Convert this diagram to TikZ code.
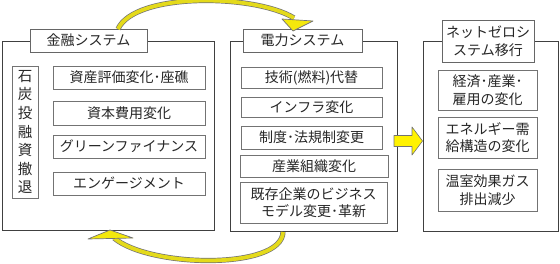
\documentclass[tikz,border=0pt]{standalone}
\usepackage{fontspec}
\setmainfont{Noto Sans CJK JP}
\tikzset{
  outerbox/.style={draw=black!75, line width=0.9pt, inner sep=0pt},
  titlebox/.style={draw=black!60, fill=white, line width=0.8pt, inner sep=0pt, align=center,
    text=black!85, font=\fontsize{14}{18}\selectfont},
  itembox/.style={draw=black!55, line width=0.8pt, inner sep=0pt, align=center,
    text=black!85, font=\fontsize{14}{17.5}\selectfont},
  bandarrow/.style={draw=black!55, line width=0.7pt, double=yellow!88!black, double distance=3.8pt},
  bandhead/.style={draw=black!55, line width=0.7pt, fill=yellow!95!black, line join=round},
}
\begin{document}
\begin{tikzpicture}[x=1pt,y=-1pt]
  \useasboundingbox (0,0) rectangle (560,264);
  % outer frames
  \node[outerbox, minimum width=212pt, minimum height=189pt] (fin) at (108,135.5) {};
  \node[outerbox, minimum width=167pt, minimum height=190pt] (elec) at (313.5,136) {};
  \node[outerbox, minimum width=135pt, minimum height=190pt] (nz) at (490.5,136) {};
  % titles
  \node[titlebox, minimum width=117pt, minimum height=23pt] (fintitle) at (88.5,40.5) {金融システム};
  \node[titlebox, minimum width=119pt, minimum height=23pt] (electitle) at (302.5,40.5) {電力システム};
  \node[titlebox, minimum width=92pt, minimum height=42pt] (nztitle) at (488,41) {ネットゼロシ\\ステム移行};
  % finance column
  \node[itembox, minimum width=26pt, minimum height=132pt, font=\fontsize{14.5}{18.6}\selectfont]
    (coal) at (25,132) {石\\炭\\投\\融\\資\\撤\\退};
  \node[itembox, minimum width=152pt, minimum height=23pt] (f1) at (129,77.5) {資産評価変化･座礁};
  \node[itembox, minimum width=152pt, minimum height=24pt] (f2) at (129,113) {資本費用変化};
  \node[itembox, minimum width=152pt, minimum height=23pt] (f3) at (129,146.5) {グリーンファイナンス};
  \node[itembox, minimum width=152pt, minimum height=23pt] (f4) at (129,183.5) {エンゲージメント};
  % power column
  \node[itembox, minimum width=141pt, minimum height=21pt] (e1) at (311.5,77.5) {技術(燃料)代替};
  \node[itembox, minimum width=141pt, minimum height=20pt] (e2) at (311.5,107) {インフラ変化};
  \node[itembox, minimum width=141pt, minimum height=23pt] (e3) at (311.5,137.5) {制度･法規制変更};
  \node[itembox, minimum width=148pt, minimum height=22pt] (e4) at (314,166) {産業組織変化};
  \node[itembox, minimum width=147pt, minimum height=41pt] (e5) at (313.5,202.5) {既存企業のビジネス\\モデル変更･革新};
  % net zero column
  \node[itembox, minimum width=99pt, minimum height=40pt] (n1) at (487.5,90) {経済･産業･\\雇用の変化};
  \node[itembox, minimum width=99pt, minimum height=41pt] (n2) at (487.5,137.5) {エネルギー需\\給構造の変化};
  \node[itembox, minimum width=99pt, minimum height=42pt] (n3) at (487.5,190) {温室効果ガス\\排出減少};
  % block arrow elec -> nz
  \draw[draw=black!55, fill=yellow, line width=0.6pt, line join=round]
    (394,135.5) -- (412,135.5) -- (412,127) -- (nz.west |- 0,141) -- (412,155) -- (412,146.5) -- (394,146.5) -- cycle;
  % curved arrows
  \coordinate (top0) at (118,29);
  \coordinate (top1) at (294,18);
  \coordinate (bot0) at (283,232);
  \coordinate (bot1) at (114,238);
  \draw[bandarrow] (top0) .. controls (135,-8) and (255,-6) .. (top1);
  \draw[bandhead] (282,19) -- (313,21) -- (293,31) -- cycle;
  \draw[bandarrow] (bot0) .. controls (282,270) and (150,268) .. (bot1);
  \draw[bandhead] (88,239) -- (110,230) -- (133,238) -- cycle;
\end{tikzpicture}
\end{document}
